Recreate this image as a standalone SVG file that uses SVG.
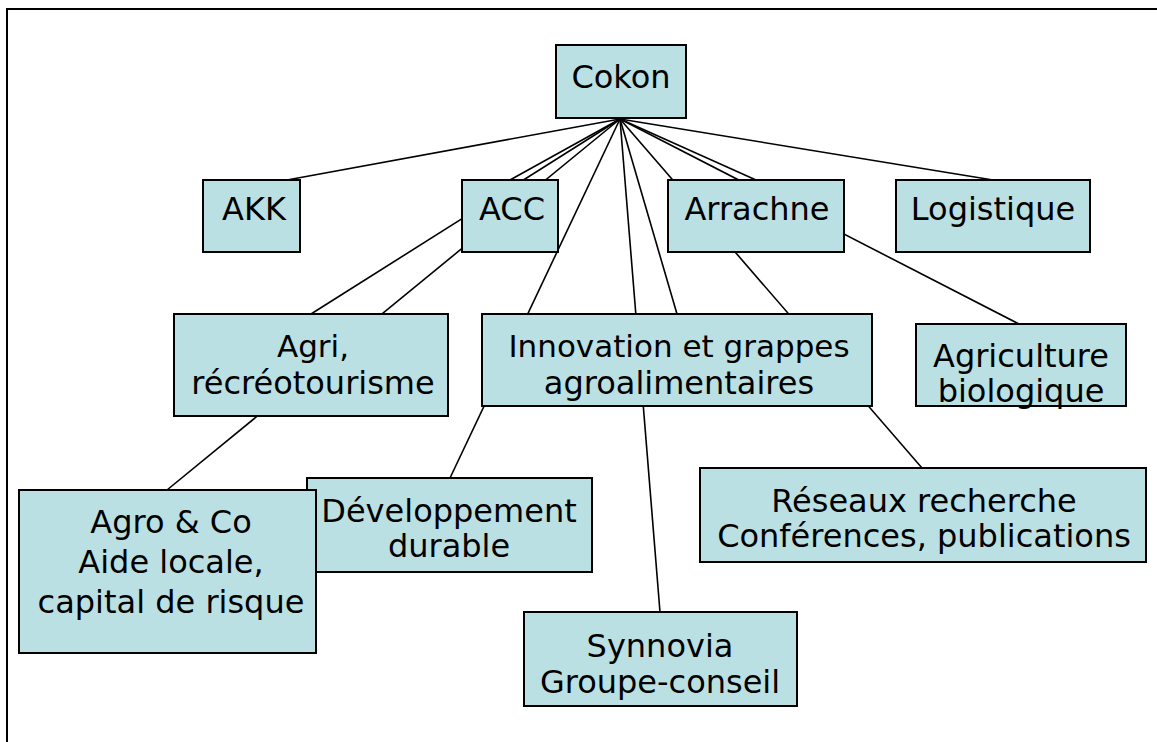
<svg xmlns="http://www.w3.org/2000/svg" width="1157" height="742" viewBox="0 0 1157 742">
<style>
.box{fill:#BBE0E3;stroke:#000;stroke-width:2}
.lbl{font-family:"DejaVu Sans",Verdana,sans-serif;font-size:32px;fill:#000;text-anchor:middle}
.tight{font-size:31px}
.conn line{stroke:#000;stroke-width:1.6}
</style>
<rect width="1157" height="742" fill="#fff"/>
<path d="M7,742 V9 H1157" fill="none" stroke="#000" stroke-width="2"/>
<g id="connectors" class="conn">
<line x1="620" y1="119" x2="287" y2="180"/>
<line x1="620" y1="119" x2="510" y2="180"/>
<line x1="620" y1="119" x2="311" y2="314"/>
<line x1="620" y1="119" x2="167" y2="490"/>
<line x1="620" y1="119" x2="450" y2="478"/>
<line x1="620" y1="119" x2="660" y2="612"/>
<line x1="620" y1="119" x2="677" y2="314"/>
<line x1="620" y1="119" x2="922" y2="468"/>
<line x1="620" y1="119" x2="756" y2="180"/>
<line x1="620" y1="119" x2="1019" y2="324"/>
<line x1="620" y1="119" x2="993" y2="180"/>
</g>
<g id="cokon"><rect class="box" x="556" y="45" width="130" height="73"/><text class="lbl" x="621" y="88">Cokon</text></g>
<g id="akk"><rect class="box" x="203" y="180" width="97" height="72"/><text class="lbl" x="254" y="220">AKK</text></g>
<g id="acc"><rect class="box" x="462" y="180" width="96" height="72"/><text class="lbl" x="512" y="220">ACC</text></g>
<g id="arrachne"><rect class="box" x="668" y="180" width="176" height="72"/><text class="lbl" x="757" y="220">Arrachne</text></g>
<g id="logistique"><rect class="box" x="896" y="180" width="194" height="72"/><text class="lbl" x="993" y="220">Logistique</text></g>
<g id="agri"><rect class="box" x="174" y="314" width="274" height="102"/><text class="lbl tight" x="313" y="357">Agri,</text><text class="lbl" x="313" y="394">récréotourisme</text></g>
<g id="innovation"><rect class="box" x="482" y="314" width="390" height="92"/><text class="lbl tight" x="679" y="357">Innovation et grappes</text><text class="lbl" x="679" y="394">agroalimentaires</text></g>
<g id="agriculture"><rect class="box" x="916" y="324" width="210" height="82"/><text class="lbl" x="1021" y="367">Agriculture</text><text class="lbl" x="1021" y="402">biologique</text></g>
<g id="developpement"><rect class="box" x="307" y="478" width="285" height="94"/><text class="lbl" x="449" y="522">Développement</text><text class="lbl" x="449" y="557">durable</text></g>
<g id="agro"><rect class="box" x="19" y="490" width="297" height="163"/><text class="lbl" x="171" y="533">Agro &amp; Co</text><text class="lbl" x="171" y="573">Aide locale,</text><text class="lbl" x="171" y="613">capital de risque</text></g>
<g id="reseaux"><rect class="box" x="700" y="468" width="446" height="94"/><text class="lbl" x="924" y="512">Réseaux recherche</text><text class="lbl" x="924" y="547">Conférences, publications</text></g>
<g id="synnovia"><rect class="box" x="524" y="612" width="273" height="94"/><text class="lbl" x="660" y="657">Synnovia</text><text class="lbl" x="660" y="693">Groupe-conseil</text></g>
</svg>
